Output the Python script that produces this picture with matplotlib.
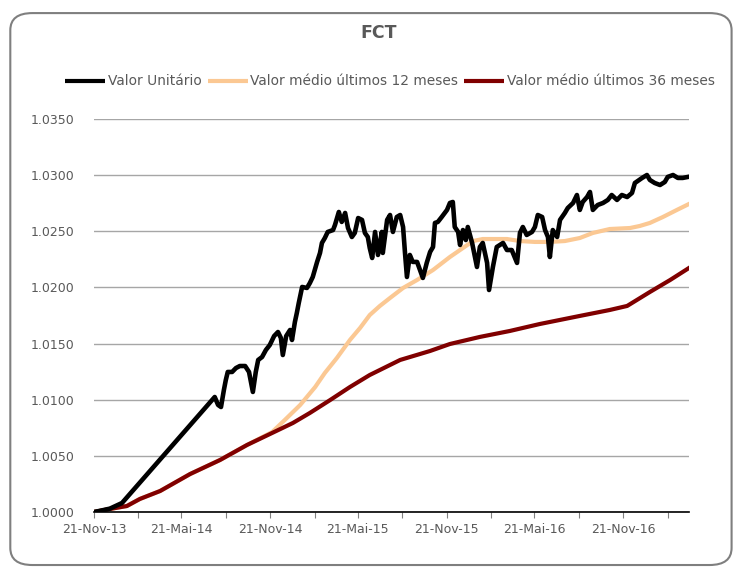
import numpy as np
import matplotlib
matplotlib.use("Agg")
import matplotlib.pyplot as plt
import matplotlib.dates as mdates
from matplotlib.patches import FancyBboxPatch
from matplotlib.ticker import FixedLocator, FixedFormatter

plt.rcParams['font.family'] = ['DejaVu Sans']

title = "FCT"
series_names = ["Valor Unitário", "Valor médio últimos 12 meses", "Valor médio últimos 36 meses"]
start_date = "2013-11-21"

# Valor Unitário (days since start_date, value)
vu_days = [0, 12, 33, 58, 250, 257, 263, 269, 273, 277, 286, 294, 302, 313, 321, 329, 335, 340,
           348, 356, 364, 373, 381, 387, 391, 398, 406, 410, 416, 420, 424, 431, 441, 447, 453,
           462, 468, 472, 478, 484, 495, 499, 507, 513, 520, 526, 534, 540, 547, 555, 561, 567,
           571, 576, 582, 588, 596, 598, 607, 613, 619, 627, 634, 640, 644, 648, 654, 660, 669,
           675, 681, 689, 696, 702, 706, 712, 720, 731, 737, 743, 747, 754, 758, 764, 770, 774,
           783, 793, 799, 805, 814, 818, 826, 834, 847, 855, 865, 876, 882, 888, 896, 907, 913,
           919, 928, 934, 940, 944, 950, 959, 965, 975, 981, 992, 1000, 1006, 1012, 1021, 1027,
           1033, 1043, 1054, 1064, 1072, 1083, 1093, 1104, 1114, 1120, 1135, 1145, 1151, 1161,
           1172, 1182, 1188, 1199, 1209, 1219, 1230]
vu_vals = [1.0000, 1.0001, 1.0003, 1.0008, 1.01024, 1.00953, 1.00935, 1.01087, 1.01176, 1.01247,
           1.01247, 1.01282, 1.01300, 1.01300, 1.01247, 1.01069, 1.01247, 1.01354, 1.01380,
           1.01443, 1.01487, 1.01567, 1.01603, 1.01550, 1.01398, 1.01567, 1.01621, 1.01532,
           1.01692, 1.01772, 1.01861, 1.02004, 1.01995, 1.02039, 1.02093, 1.02227, 1.02307,
           1.02396, 1.02440, 1.02494, 1.02511, 1.02556, 1.02672, 1.02583, 1.02663, 1.02529,
           1.02449, 1.02485, 1.02618, 1.02601, 1.02485, 1.02449, 1.02351, 1.02262, 1.02494,
           1.02289, 1.02494, 1.02307, 1.02601, 1.02645, 1.02494, 1.02627, 1.02645, 1.02538,
           1.02307, 1.02093, 1.02289, 1.02227, 1.02227, 1.02155, 1.02084, 1.02218, 1.02316,
           1.02360, 1.02574, 1.02583, 1.02627, 1.02690, 1.02752, 1.02761, 1.02538, 1.02494,
           1.02378, 1.02511, 1.02422, 1.02538, 1.02396, 1.02182, 1.02360, 1.02396, 1.02218,
           1.01977, 1.02182, 1.02360, 1.02396, 1.02333, 1.02333, 1.02218, 1.02485, 1.02538,
           1.02467, 1.02494, 1.02538, 1.02645, 1.02627, 1.02511, 1.02449, 1.02271, 1.02511,
           1.02449, 1.02601, 1.02663, 1.02707, 1.02752, 1.02823, 1.02690, 1.02761, 1.02805,
           1.02850, 1.02690, 1.02734, 1.02752, 1.02779, 1.02823, 1.02779, 1.02823, 1.02805,
           1.02841, 1.02930, 1.02975, 1.03001, 1.02957, 1.02930, 1.02912, 1.02939, 1.02984,
           1.03001, 1.02975, 1.02975, 1.02984]

# Valor médio últimos 12 meses
m12_days = [0, 33, 68, 95, 137, 199, 261, 317, 369, 395, 427, 458, 478, 503, 530, 551, 571, 592,
            613, 640, 669, 702, 737, 764, 785, 805, 830, 855, 882, 913, 944, 975, 1006, 1033,
            1068, 1110, 1130, 1151, 1178, 1207, 1232]
m12_vals = [1.0000, 1.00027, 1.00053, 1.00116, 1.00187, 1.00338, 1.00463, 1.00597, 1.00712,
            1.00819, 1.00953, 1.01113, 1.01238, 1.01372, 1.01532, 1.01639, 1.01754, 1.01835,
            1.01906, 1.01995, 1.02066, 1.02155, 1.02271, 1.02351, 1.02413, 1.02431, 1.02431,
            1.02431, 1.02413, 1.02405, 1.02405, 1.02413, 1.02440, 1.02485, 1.02520, 1.02529,
            1.02547, 1.02574, 1.02627, 1.02690, 1.02743]

# Valor médio últimos 36 meses
m36_days = [0, 33, 68, 95, 137, 199, 261, 317, 369, 412, 447, 489, 530, 571, 634, 696, 737, 799,
            861, 923, 1006, 1068, 1104, 1151, 1193, 1232]
m36_vals = [1.0000, 1.00027, 1.00053, 1.00116, 1.00187, 1.00338, 1.00463, 1.00597, 1.00704,
            1.00793, 1.00882, 1.00997, 1.01113, 1.01220, 1.01354, 1.01434, 1.01496, 1.01559,
            1.01612, 1.01674, 1.01746, 1.01799, 1.01835, 1.01959, 1.02066, 1.02173]

tick_dates = ["2013-11-21", "2014-02-21", "2014-05-21", "2014-08-21", "2014-11-21", "2015-02-21",
              "2015-05-21", "2015-08-21", "2015-11-21", "2016-02-21", "2016-05-21", "2016-08-21",
              "2016-11-21", "2017-02-21"]
tick_labels = ["21-Nov-13", "", "21-Mai-14", "", "21-Nov-14", "", "21-Mai-15", "",
               "21-Nov-15", "", "21-Mai-16", "", "21-Nov-16", ""]
y_ticks = [1.0000, 1.0050, 1.0100, 1.0150, 1.0200, 1.0250, 1.0300, 1.0350]
x_end = "2017-04-06"

base = np.datetime64(start_date)
def to_dates(days):
    return base + np.array(days).astype('timedelta64[D]')

fig = plt.figure(figsize=(7.36, 5.69), dpi=100)
border = FancyBboxPatch((0.014, 0.007), 0.980, 0.970, boxstyle="round,pad=0,rounding_size=0.03",
                        transform=fig.transFigure, facecolor='none', edgecolor='#7f7f7f',
                        linewidth=1.5, zorder=-1)
fig.patches.append(border)

ax = fig.add_axes([0.1277, 0.1002, 0.8084, 0.6907])
ax.set_facecolor('none')

l1, = ax.plot(to_dates(vu_days), vu_vals, color='black', lw=3.3, zorder=4,
              solid_joinstyle='round')
l2, = ax.plot(to_dates(m12_days), m12_vals, color='#FBC893', lw=3.0, zorder=2)
l3, = ax.plot(to_dates(m36_days), m36_vals, color='#800000', lw=3.0, zorder=3)

ax.set_ylim(1.0, 1.035)
ax.set_xlim(np.datetime64(start_date), np.datetime64(x_end))
ax.set_yticks(y_ticks)
ax.set_yticklabels([f"{v:.4f}" for v in y_ticks])
tick_nums = mdates.date2num(np.array(tick_dates, dtype='datetime64[D]'))
ax.xaxis.set_major_locator(FixedLocator(tick_nums))
ax.xaxis.set_major_formatter(FixedFormatter(tick_labels))

ax.grid(axis='y', color='#A6A6A6', lw=1.0)
ax.set_axisbelow(True)
for s in ['left', 'right', 'top']:
    ax.spines[s].set_visible(False)
ax.spines['bottom'].set_color('black')
ax.spines['bottom'].set_linewidth(1.2)
ax.spines['bottom'].set_zorder(5)
ax.tick_params(axis='y', length=0, pad=14, labelsize=9, labelcolor='#595959')
ax.tick_params(axis='x', direction='out', length=4, width=0.8, color='#808080', pad=4,
               labelsize=9, labelcolor='#595959')

fig.text(0.514, 0.942, title, ha='center', va='center', fontsize=12.5, fontweight='bold',
         color='#595959')
leg = fig.legend([l1, l2, l3], series_names, loc='center', bbox_to_anchor=(0.530, 0.857), ncol=3,
                 frameon=False, fontsize=9.9, handlelength=2.9, handletextpad=0.2,
                 columnspacing=0.45, labelcolor='#595959')
for h in leg.get_lines():
    h.set_solid_capstyle('butt')
    h.set_linewidth(3.0)

fig.savefig("out.png", dpi=100)
